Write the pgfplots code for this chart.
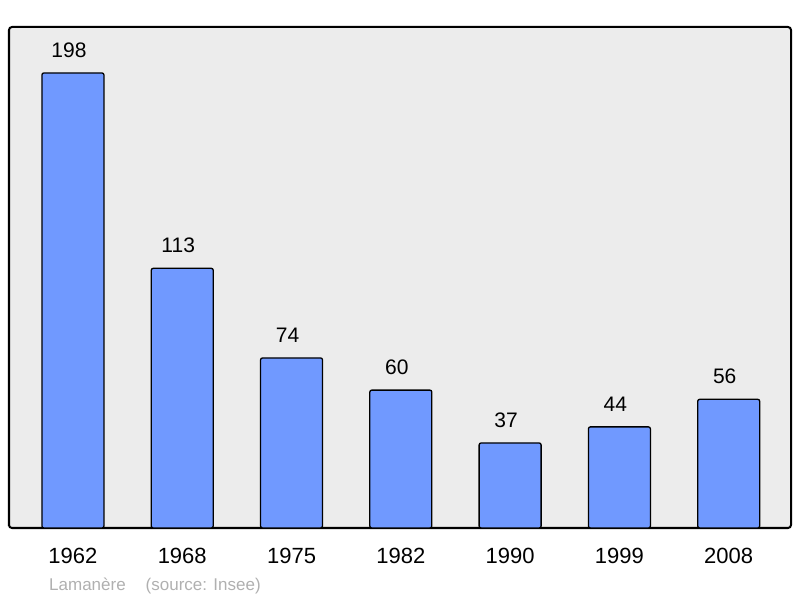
\documentclass[border=0pt]{standalone}
\usepackage{fontspec}
\setmainfont{Liberation Sans}
\usepackage{pgfplots}
\pgfplotsset{compat=1.18}
\definecolor{barblue}{RGB}{112,153,255}
\definecolor{panel}{RGB}{236,236,236}
\definecolor{foot}{RGB}{176,176,176}

\begin{document}
\begin{tikzpicture}
\path[use as bounding box] (0,0) rectangle (800bp,598bp);
\begin{axis}[
    at={(9bp,70bp)}, anchor=south west,
    scale only axis,
    width=782bp, height=501bp,
    xmin=-0.585, xmax=6.57,
    ymin=0, ymax=218,
    axis background/.style={fill=panel},
    axis line style={line width=2bp, rounded corners=3bp},
    major tick length=0pt,
    ytick=\empty,
    xtick=data,
    xticklabels={1962,1968,1975,1982,1990,1999,2008},
    xticklabel style={inner sep=0pt, anchor=north, yshift=-20bp, font=\fontsize{22bp}{24bp}\selectfont},
    /pgf/number format/assume math mode=true,
    nodes near coords,
    nodes near coords style={anchor=south, inner sep=0pt, xshift=-4bp, yshift=15bp, font=\fontsize{21bp}{23bp}\selectfont},
]
\addplot[ybar, bar width=62bp, fill=barblue, draw=black, line width=1.3bp, rounded corners=2bp] coordinates {
    (0,198)
    (1,113)
    (2,74)
    (3,60)
    (4,37)
    (5,44)
    (6,56)
};
\end{axis}
\node[anchor=base west, inner sep=0pt, text=foot, font=\fontsize{17bp}{19bp}\selectfont] at (49bp,8bp) {Lamanère\hspace{20bp}(source: Insee)};
\end{tikzpicture}
\end{document}
